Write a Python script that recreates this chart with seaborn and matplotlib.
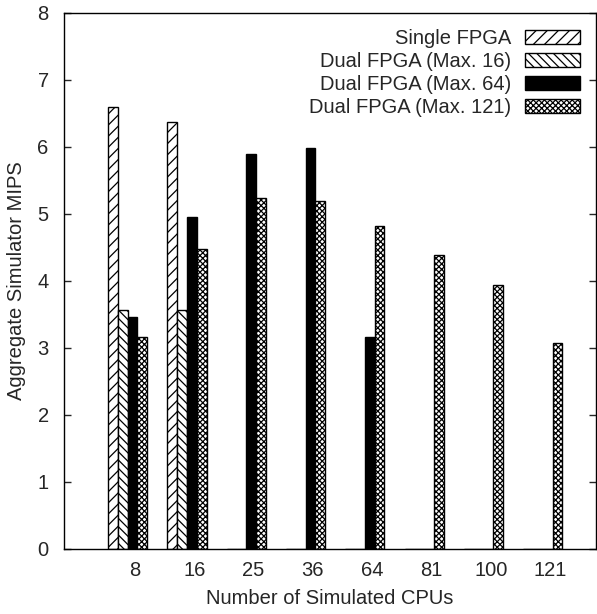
import pandas as pd
import numpy as np
import matplotlib
matplotlib.use("Agg")
import matplotlib.pyplot as plt
import seaborn as sns

sns.set_style("white")
plt.rcParams['font.family'] = ['Liberation Sans', 'DejaVu Sans']
plt.rcParams['hatch.linewidth'] = 0.9

# data
cpus = ['8', '16', '25', '36', '64', '81', '100', '121']
configs = ['Single FPGA', 'Dual FPGA (Max. 16)', 'Dual FPGA (Max. 64)', 'Dual FPGA (Max. 121)']
single_fpga = [6.59, 6.38, 0, 0, 0, 0, 0, 0]
dual_16 = [3.57, 3.56, 0, 0, 0, 0, 0, 0]
dual_64 = [3.47, 4.95, 5.89, 5.99, 3.16, 0, 0, 0]
dual_121 = [3.17, 4.48, 5.24, 5.19, 4.82, 4.39, 3.94, 3.07]

df = pd.DataFrame({
    'cpus': cpus * 4,
    'config': np.repeat(configs, len(cpus)),
    'mips': single_fpga + dual_16 + dual_64 + dual_121,
})

fills = {configs[0]: 'white', configs[1]: 'white', configs[2]: 'black', configs[3]: 'white'}
hatches = ['///', '\\\\\\\\', '', 'xxxxxx']

fig = plt.figure(figsize=(5.97, 6.14), dpi=100)
ax = fig.add_axes([64/597, 1-549/614, (596-64)/597, (549-13)/614])

sns.barplot(data=df, x='cpus', y='mips', hue='config', order=cpus, hue_order=configs,
            palette=fills, width=0.66, saturation=1, edgecolor='black', linewidth=1.0,
            legend=False, ax=ax)

for cont, h in zip(ax.containers, hatches):
    for bar in cont.patches:
        bar.set_hatch(h)

fs = 14.5
ax.set_ylim(0, 8)
ax.set_xlim(-1.074, 7.897)
ax.set_xticks(np.arange(len(cpus)) + 0.1225)
ax.set_xticklabels(cpus)
ax.set_yticks(range(0, 9))
ax.tick_params(axis='x', length=0, labelsize=fs, pad=9)
ax.tick_params(axis='y', direction='in', length=5, width=1, labelsize=fs, right=True, left=True, pad=11)

for s in ax.spines.values():
    s.set_visible(True)
    s.set_color('black')
    s.set_linewidth(1.0)

ax.set_xlabel('Number of Simulated CPUs', fontsize=fs, labelpad=6)
ax.set_ylabel('Aggregate Simulator MIPS', fontsize=fs, labelpad=8)

ax.legend(ax.containers, configs, loc='upper right', markerfirst=False, frameon=False,
          fontsize=fs, handlelength=2.75, handleheight=0.7, labelspacing=0.2,
          handletextpad=0.65, borderaxespad=0.0, bbox_to_anchor=(0.985, 0.985))

fig.savefig('out.png', dpi=100)
